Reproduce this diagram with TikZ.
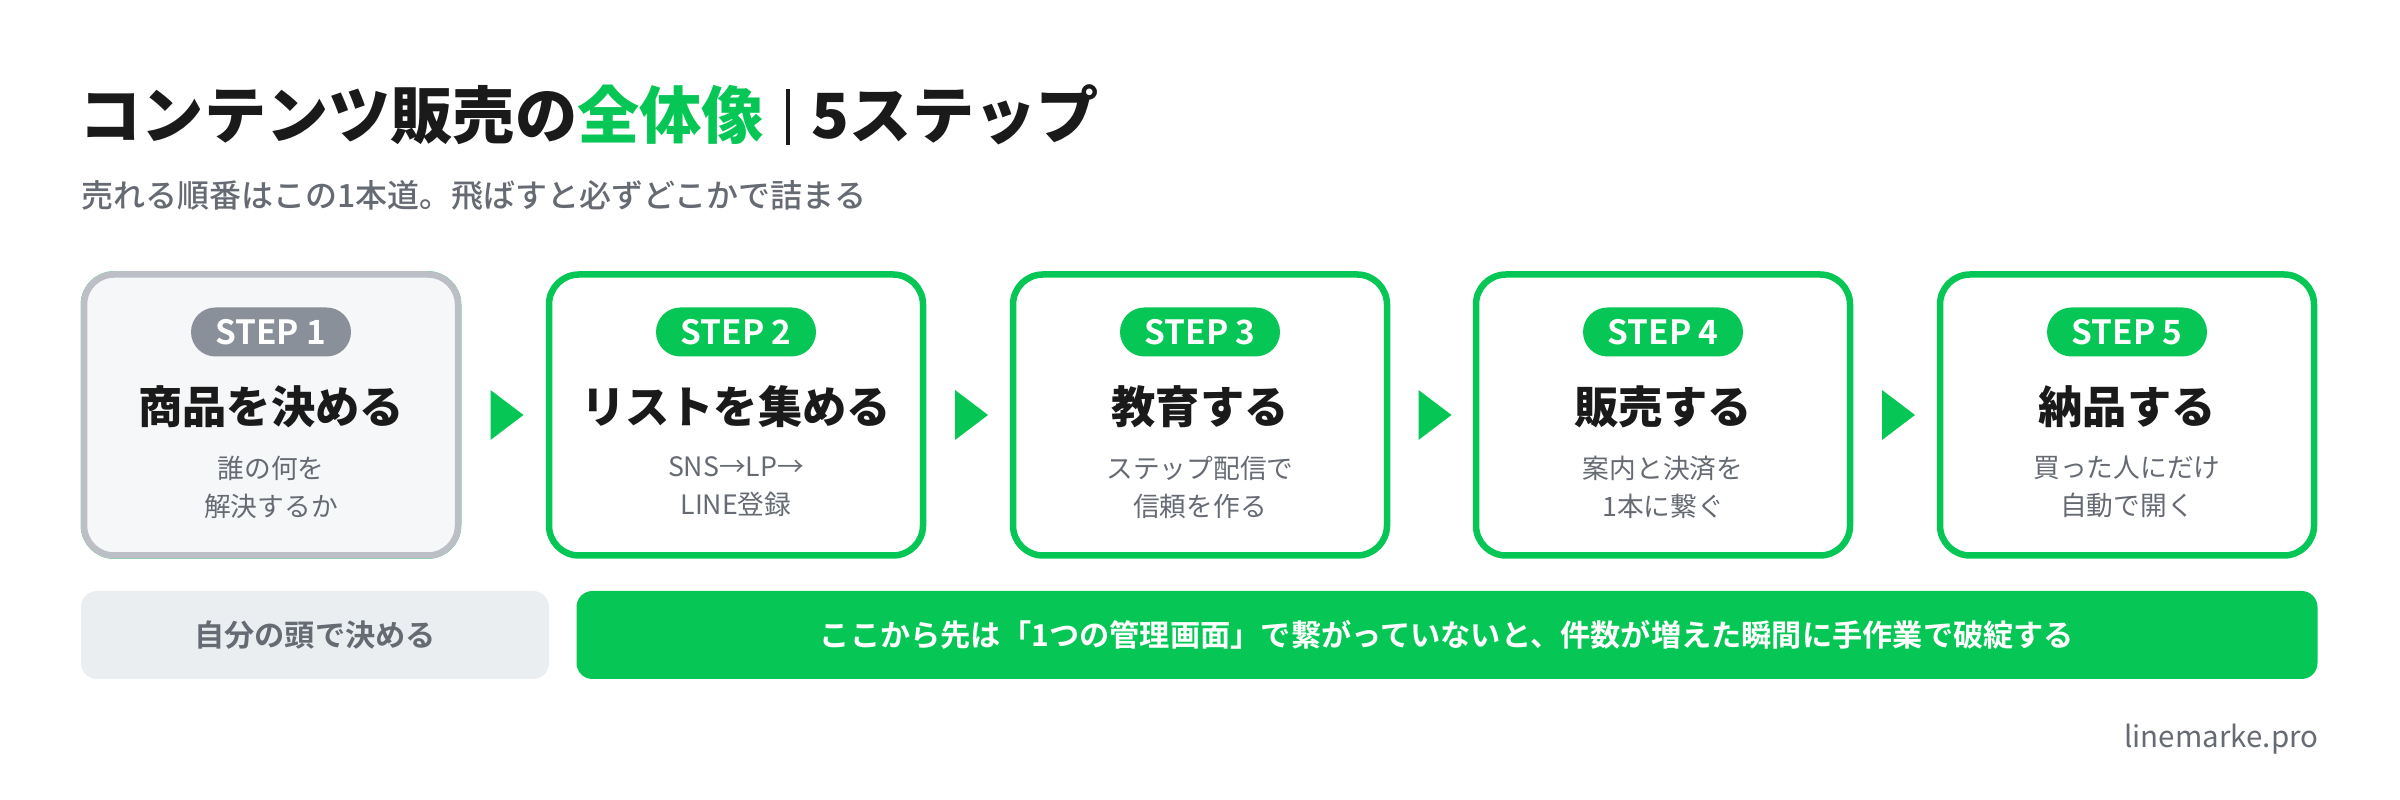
\documentclass[tikz,border=0pt]{standalone}
\usepackage{fontspec}
\setmainfont{Noto Sans CJK JP}
\newfontfamily\jpbold{Noto Sans CJK JP Bold}
\newfontfamily\jpblack{Noto Sans CJK JP Black}
\newfontfamily\jpmid{Noto Sans CJK JP Medium}
\usetikzlibrary{positioning, calc}
\definecolor{linegreen}{HTML}{06C755}
\definecolor{inkdark}{HTML}{1A1A1A}
\definecolor{inkgray}{HTML}{666B73}
\definecolor{pillgray}{HTML}{8A9099}
\definecolor{edgegray}{HTML}{BCC0C6}
\definecolor{paleback}{HTML}{F5F7F9}
\definecolor{barback}{HTML}{EBEEF1}

\newlength{\unitx}
\setlength{\unitx}{0.1mm}
\tikzset{
  stepbox/.style={draw=linegreen, line width=0.65mm, rounded corners=3mm, fill=white,
    minimum width=374\unitx, minimum height=281\unitx, inner sep=0pt},
  pill/.style={fill=linegreen, text=white, rounded corners=2.45mm, minimum width=160\unitx,
    minimum height=49\unitx, inner sep=0pt, font=\jpbold\fontsize{9.5}{10}\selectfont},
  heading/.style={text=inkdark, font=\jpblack\fontsize{12.6}{13}\selectfont, inner sep=0pt},
  detail/.style={text=inkgray, align=center, inner sep=0pt, font=\fontsize{7.6}{10.8}\selectfont},
  nexttip/.style={fill=linegreen}
}

\begin{document}
\begin{tikzpicture}[x=0.1mm, y=-0.1mm]
  \useasboundingbox[fill=white] (0,0) rectangle (2400,800);

  % title and subtitle
  \node[anchor=west, inner sep=0pt, text=inkdark, font=\jpblack\fontsize{17.7}{20}\selectfont] (title) at (79,115)
    {コンテンツ販売の\textcolor{linegreen}{全体像}\hspace{2.2mm}\textcolor{inkdark}{\rule[-0.6mm]{0.4mm}{5.6mm}}\hspace{2.2mm}5ステップ};
  \node[anchor=west, inner sep=0pt, text=inkgray, font=\jpmid\fontsize{9.1}{9}\selectfont] (subtitle) at (81,196)
    {売れる順番はこの1本道。飛ばすと必ずどこかで詰まる};

  % step boxes
  \foreach \i/\x/\head/\lineA/\lineB in {
      1/271/商品を決める/誰の何を/解決するか,
      2/736/リストを集める/SNS→LP→/LINE登録,
      3/1200/教育する/ステップ配信で/信頼を作る,
      4/1663/販売する/案内と決済を/1本に繋ぐ,
      5/2127/納品する/買った人にだけ/自動で開く} {
    \node[stepbox] (box\i) at (\x,415) {};
    \node[pill] (pill\i) at (\x,332) {STEP \i};
    \node[heading] (head\i) at (\x,407) {\head};
    \node[detail] (text\i) at (\x,487) {\lineA\\\lineB};
  }
  \node[stepbox, draw=edgegray, fill=paleback] (box1) at (271,415) {};
  \node[pill, fill=pillgray] (pill1) at (271,332) {STEP 1};
  \node[heading] (head1) at (271,407) {商品を決める};
  \node[detail] (text1) at (271,487) {誰の何を\\解決するか};

  % arrows between boxes
  \foreach \a/\b in {1/2, 2/3, 3/4, 4/5} {
    \coordinate (mid\a) at ($(box\a.east)!0.5!(box\b.west)$);
    \fill[nexttip] ($(mid\a)+(-13,-25)$) -- ($(mid\a)+(20,0)$) -- ($(mid\a)+(-13,25)$) -- cycle;
  }

  % bottom bars
  \node[fill=barback, rounded corners=1.6mm, minimum width=468\unitx, minimum height=88\unitx,
    text=inkgray, font=\jpbold\fontsize{8.6}{10}\selectfont] (selfbar) at (315,635) {自分の頭で決める};
  \node[fill=linegreen, rounded corners=1.6mm, minimum width=1741\unitx, minimum height=88\unitx,
    text=white, font=\jpbold\fontsize{8.6}{10}\selectfont] (toolbar) at (1447,635)
    {ここから先は「1つの管理画面」で繋がっていないと、件数が増えた瞬間に手作業で破綻する};

  % footer
  \node[anchor=east, inner sep=0pt, text=inkgray, font=\fontsize{8.4}{9}\selectfont] (footer) at (2319,739) {linemarke.pro};
\end{tikzpicture}
\end{document}
